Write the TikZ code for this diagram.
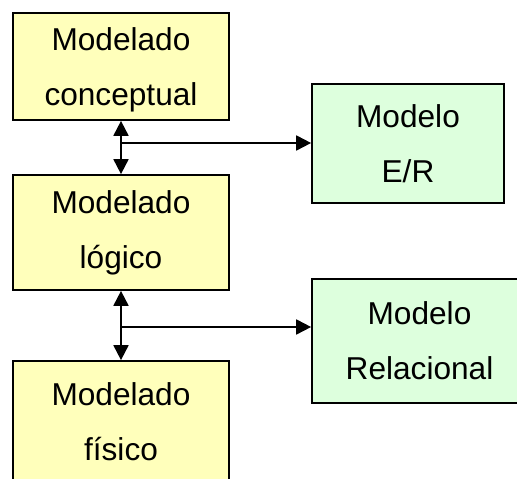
\documentclass[tikz,border=0pt]{standalone}
\usepackage{fontspec}
\setmainfont{Liberation Sans}
\usetikzlibrary{arrows.meta}
\definecolor{stageyellow}{RGB}{255,255,187}
\definecolor{modelgreen}{RGB}{221,255,221}

\begin{document}
\begin{tikzpicture}[x=0.02cm,y=-0.02cm,
 stage/.style={draw=black,rectangle,line width=1pt,fill=stageyellow,minimum width=4.32cm,align=center,inner sep=0pt},
 model/.style={draw=black,rectangle,line width=1pt,fill=modelgreen,align=center,inner sep=0pt},
 flow/.style={-{Triangle[length=8.5pt,width=8.5pt]},black,line width=1.1pt},
 twoway/.style={{Triangle[length=8.5pt,width=8.5pt]}-{Triangle[length=8.5pt,width=8.5pt]},black,line width=1.1pt},
 every node/.style={font=\fontsize{18}{31.3}\selectfont}]
\useasboundingbox (0,0) rectangle (517,479);
\clip (0,0) rectangle (517,479);
\node[stage,minimum height=2.14cm] (concept) at (121,66.5) {Modelado\\conce\smash{p}tual};
\node[stage,minimum height=2.3cm] (logic) at (121,232.5) {Modelado\\lógico};
\node[stage,minimum height=2.44cm] (phys) at (121,422) {Modelado\\físico};
\node[model,minimum width=3.84cm,minimum height=2.38cm] (er) at (408,143.5) {Modelo\\E/R};
\node[model,minimum width=4.3cm,minimum height=2.48cm] (rel) at (419.5,341) {Modelo\\Relacional};
\coordinate (fork1) at (121,143);
\coordinate (fork2) at (121,327);
\draw[twoway] (concept.south) -- (logic.north);
\draw[twoway] (logic.south) -- (phys.north);
\draw[flow] (fork1) -- (er.west |- fork1);
\draw[flow] (fork2) -- (rel.west |- fork2);
\end{tikzpicture}
\end{document}
